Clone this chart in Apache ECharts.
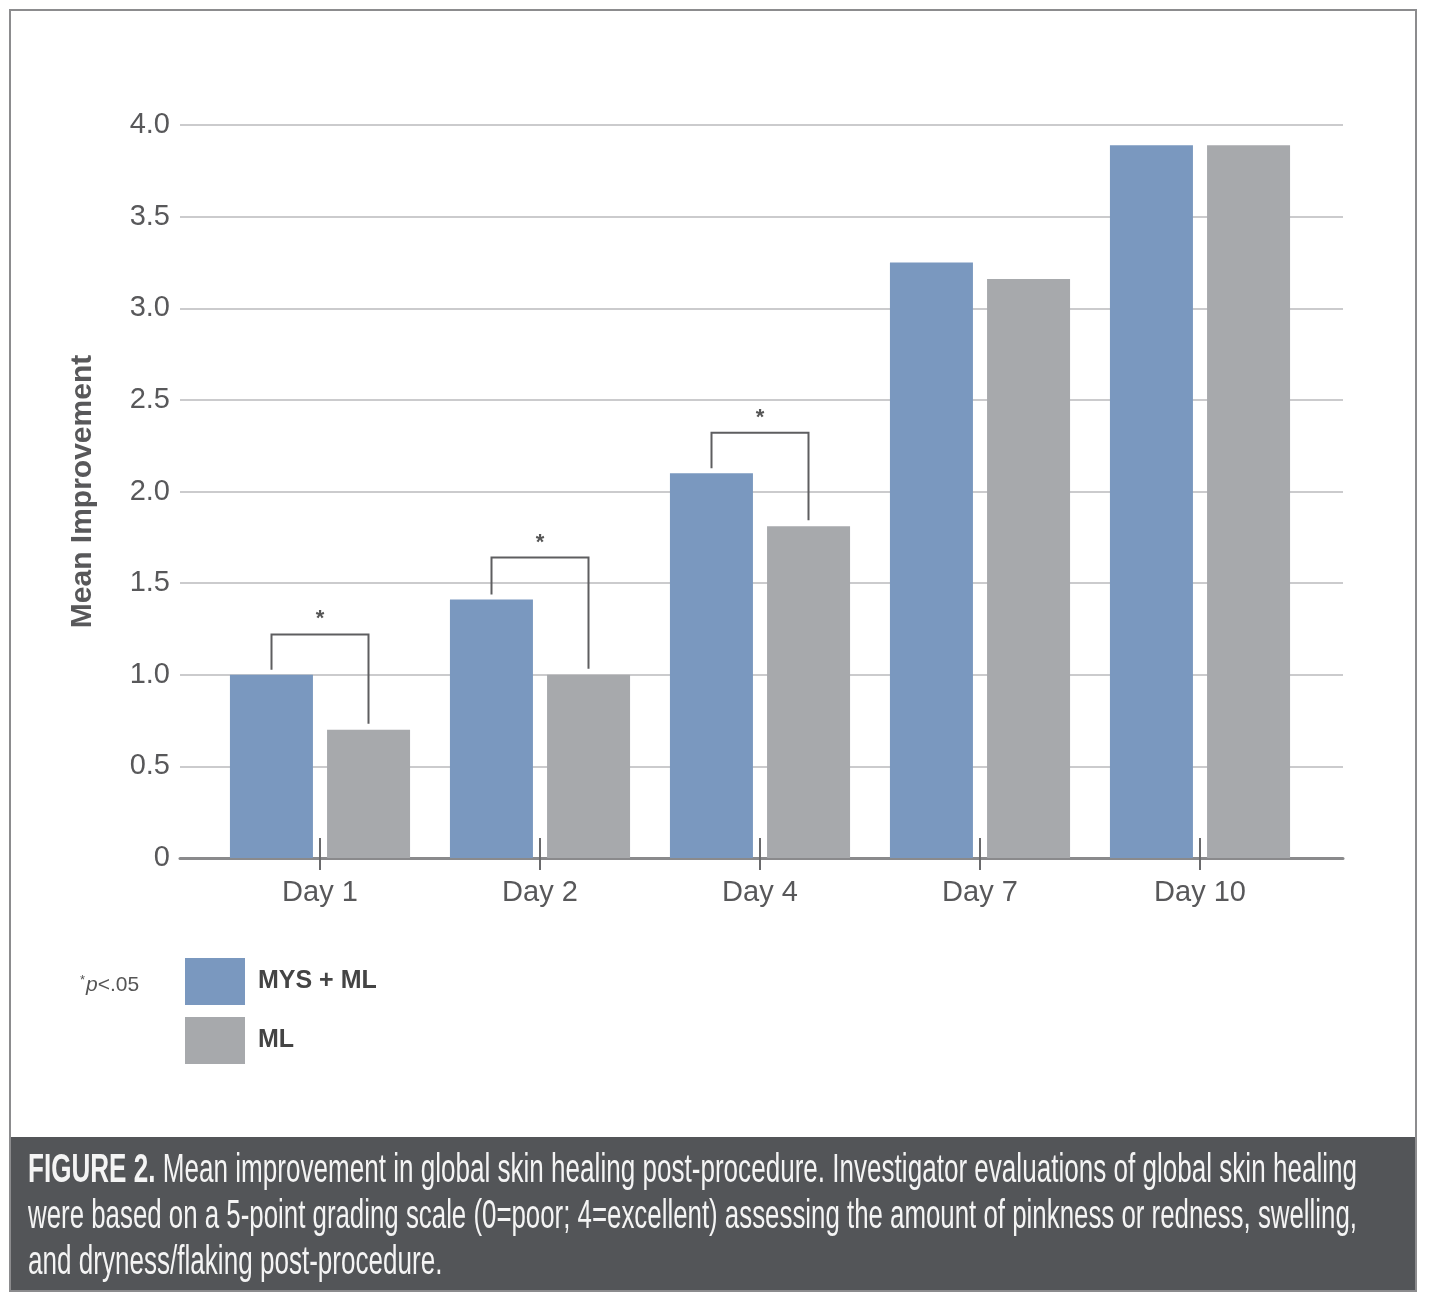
<!DOCTYPE html>
<html><head><meta charset="utf-8">
<script src="https://cdn.jsdelivr.net/npm/echarts@6/dist/echarts.min.js"></script>
<style>html,body{margin:0;padding:0;background:#fff}#c{width:1433px;height:1305px}</style>
</head><body><div id="c"></div>
<script>
// ---- data ----
const categories = ['Day 1', 'Day 2', 'Day 4', 'Day 7', 'Day 10'];
const seriesNames = ['MYS + ML', 'ML'];
const mysMl = [1.00, 1.41, 2.10, 3.25, 3.89];
const ml = [0.70, 1.00, 1.81, 3.16, 3.89];
const sigIndex = [0, 1, 2];          // categories marked *p<.05
const bracketTop = [1.22, 1.64, 2.32]; // height of significance brackets
const yMin = 0, yMax = 4, yStep = 0.5;
const captionBold = 'FIGURE 2.';
const captionLines = [
  ' Mean improvement in global skin healing post-procedure. Investigator evaluations of global skin healing',
  'were based on a 5-point grading scale (0=poor; 4=excellent) assessing the amount of pinkness or redness, swelling,',
  'and dryness/flaking post-procedure.'
];

// ---- styles ----
const FONT = '"Liberation Sans", Arial, Helvetica, sans-serif';
const BLUE = '#7a98bf', GRAY = '#a7a9ac', TXT = '#58585a';

const chart = echarts.init(document.getElementById('c'));

// caption scaling (condensed look)
const capFontSize = 40;
const ctx = document.createElement('canvas').getContext('2d');
ctx.font = 'bold ' + capFontSize + 'px ' + FONT;
const wBold = ctx.measureText(captionBold).width;
ctx.font = capFontSize + 'px ' + FONT;
const lineW = captionLines.map((l, k) => (k === 0 ? wBold : 0) + ctx.measureText(l).width);
const baseScale = (1357 - 28) / lineW[0];
const lineScale = [baseScale, (1357 - 28) / lineW[1], baseScale];

const bracketData = sigIndex.map((ci, k) => [ci, mysMl[ci], ml[ci], bracketTop[k]]);

const captionGraphics = captionLines.map((line, k) => ({
  type: 'text',
  x: 28, y: 1171 + k * 46, z: 11,
  scaleX: lineScale[k], scaleY: 1,
  style: {
    text: k === 0 ? '{b|' + captionBold + '}' + line : line,
    rich: { b: { fontWeight: 'bold', fontSize: capFontSize, fontFamily: FONT, fill: '#f4f4f4' } },
    fontSize: capFontSize, fontFamily: FONT, fill: '#f4f4f4',
    verticalAlign: 'middle', align: 'left'
  }
}));

const option = {
  backgroundColor: '#fff',
  animation: false,
  grid: [
    { left: 180, right: 90, top: 125, bottom: 447 },
    { left: 210, right: 123, top: 125, bottom: 447 }
  ],
  xAxis: [
    { gridIndex: 0, type: 'value', min: 0, max: 1, axisLabel: { show: false }, axisTick: { show: false },
      splitLine: { show: false }, axisLine: { show: true, lineStyle: { color: '#8a8a8c', width: 3 } } },
    { gridIndex: 1, type: 'category', data: categories, axisLine: { show: false },
      axisTick: { show: true, alignWithLabel: true, length: 12, lineStyle: { color: '#6a6a6c', width: 2 } },
      axisLabel: { margin: 20, fontSize: 29, fontFamily: FONT, color: TXT } },
    { gridIndex: 1, type: 'category', data: categories, position: 'bottom', axisLine: { show: false },
      axisTick: { show: true, inside: true, alignWithLabel: true, length: 20, lineStyle: { color: '#6a6a6c', width: 2 } },
      axisLabel: { show: false } }
  ],
  yAxis: [
    { gridIndex: 0, type: 'value', min: yMin, max: yMax, interval: yStep,
      axisLine: { show: false }, axisTick: { show: false },
      splitLine: { lineStyle: { color: '#cbcbcd', width: 2 } },
      axisLabel: { margin: 10, fontSize: 29, fontFamily: FONT, color: TXT,
        formatter: v => v === 0 ? '0' : v.toFixed(1) },
      name: 'Mean Improvement', nameLocation: 'middle', nameGap: 82, nameRotate: 90,
      nameTextStyle: { fontSize: 30, fontWeight: 'bold', fontFamily: FONT, color: TXT } },
    { gridIndex: 1, type: 'value', min: yMin, max: yMax, interval: yStep, show: false, splitLine: { show: false } }
  ],
  legend: {
    data: seriesNames, orient: 'vertical', left: 185, top: 958, padding: 0,
    icon: 'rect', itemWidth: 60, itemHeight: 47, itemGap: 12,
    textStyle: { fontSize: 25, fontWeight: 'bold', fontFamily: FONT, color: '#444', padding: [0, 0, 0, 8] }
  },
  series: [
    { name: seriesNames[0], type: 'bar', xAxisIndex: 1, yAxisIndex: 1, data: mysMl,
      barWidth: 83, barGap: '17%', itemStyle: { color: BLUE } },
    { name: seriesNames[1], type: 'bar', xAxisIndex: 1, yAxisIndex: 1, data: ml,
      barWidth: 83, barGap: '17%', itemStyle: { color: GRAY } },
    { type: 'custom', xAxisIndex: 1, yAxisIndex: 1, data: bracketData, encode: { x: 0, y: 3 }, z: 5,
      renderItem: function (params, api) {
        const i = api.value(0);
        const cx = api.coord([i, 0])[0];
        const off = 48.5;
        const yT = api.coord([i, api.value(3)])[1];
        const yB = api.coord([i, api.value(1)])[1] - 5;
        const yG = api.coord([i, api.value(2)])[1] - 6;
        return { type: 'group', children: [
          { type: 'polyline', shape: { points: [[cx - off, yB], [cx - off, yT], [cx + off, yT], [cx + off, yG]] },
            style: { stroke: '#5e5e60', lineWidth: 2, fill: null } },
          { type: 'text', style: { text: '*', x: cx, y: yT - 26, align: 'center', verticalAlign: 'top',
            fontSize: 22, fontWeight: 'bold', fontFamily: FONT, fill: '#555' } }
        ] };
      } }
  ],
  graphic: [
    { type: 'rect', shape: { x: 10, y: 10, width: 1406, height: 1281 }, style: { fill: null, stroke: '#8c8c8e', lineWidth: 2 }, z: 10 },
    { type: 'rect', shape: { x: 10, y: 1137, width: 1406, height: 154 }, style: { fill: '#535558' }, z: 9 },
    { type: 'text', x: 80, y: 985, z: 10, style: {
        text: '{s|*}{i|p}<.05', verticalAlign: 'middle',
        rich: { s: { fontSize: 13, fontFamily: FONT, fill: '#555', verticalAlign: 'top', padding: [0, 1, 9, 0] },
                i: { fontSize: 21, fontStyle: 'italic', fontFamily: FONT, fill: '#555' } },
        fontSize: 21, fontFamily: FONT, fill: '#555' } }
  ].concat(captionGraphics)
};
chart.setOption(option);
</script>
</body></html>
